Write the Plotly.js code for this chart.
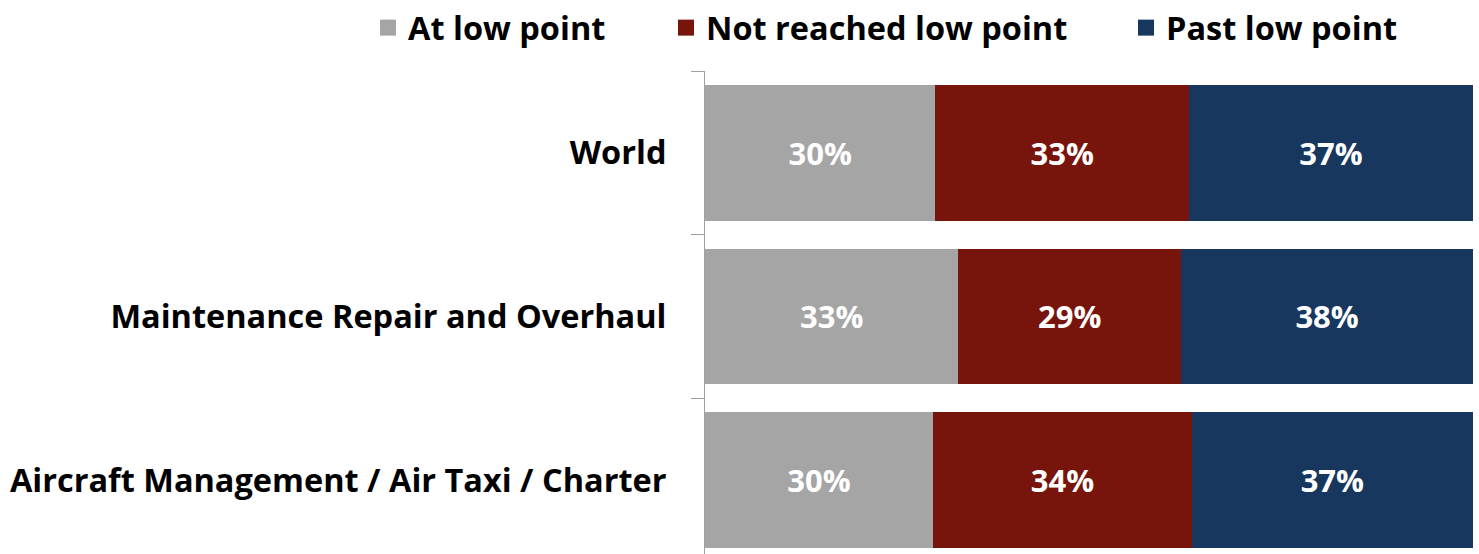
<!DOCTYPE html>
<html><head><meta charset="utf-8">
<script src="https://cdn.plot.ly/plotly-3.0.1.min.js"></script>
<style>html,body{margin:0;padding:0;background:#fff}#chart{width:1479px;height:554px}</style>
</head><body><div id="chart"></div>
<script>
const categories = ["World", "Maintenance Repair and Overhaul", "Aircraft Management / Air Taxi / Charter"];
const seriesNames = ["At low point", "Not reached low point", "Past low point"];
const atLow = [30, 33, 30];
const notReached = [33, 29, 34];
const pastLow = [37, 38, 37];
const colors = ["#A5A5A5", "#77150C", "#17375E"];

const FONT = "'Open Sans', Lato, sans-serif";
const series = [atLow, notReached, pastLow];
const traces = series.map((vals, i) => ({
  type: "bar", orientation: "h",
  name: seriesNames[i],
  y: categories, x: vals,
  text: vals.map(v => v + "%"),
  textposition: "inside", insidetextanchor: "middle",
  textfont: {family: FONT, size: 31, color: "#fff", weight: "bold"},
  marker: {color: colors[i], line: {width: 0}},
  showlegend: false,
  hoverinfo: "skip"
}));
// legend entries with larger square swatches, one legend per entry for Excel-like spacing
const legendIds = ["legend", "legend2", "legend3"];
seriesNames.forEach((n, i) => traces.push({
  type: "scatter", mode: "markers", name: n, x: [null], y: [null], legend: legendIds[i],
  marker: {symbol: "square", size: 20, color: colors[i]}, showlegend: true, hoverinfo: "skip"
}));

const plotH = 554 - 70;
const band = 164;
const legendLeft = [368, 666, 1126];
const legendBase = {orientation: "h", xanchor: "left", y: 1 + 43/plotH, yanchor: "middle",
  font: {family: FONT, size: 32.5, color: "#000", weight: "bold"}, bgcolor: "rgba(0,0,0,0)"};
const layout = {
  width: 1479, height: 554,
  margin: {l: 705, r: 6, t: 70, b: 0},
  barmode: "stack", barnorm: "percent", bargap: 0.17,
  paper_bgcolor: "#fff", plot_bgcolor: "#fff",
  showlegend: true,
  xaxis: {range: [0, 100], visible: false, fixedrange: true},
  yaxis: {type: "category", range: [-0.5 + plotH/band, -0.5], tickson: "boundaries",
          ticks: "outside", ticklen: 13, tickcolor: "#A0A0A0", showline: true, linecolor: "#A0A0A0", linewidth: 1,
          showgrid: false, ticklabelstandoff: 31,
          tickfont: {family: FONT, size: 32.5, color: "#000", weight: "bold"}}
};
legendIds.forEach((id, i) => {
  layout[id] = Object.assign({}, legendBase, {x: (legendLeft[i] - 705) / 768});
});
Plotly.newPlot("chart", traces, layout, {displayModeBar: false, staticPlot: true});
</script></body></html>
